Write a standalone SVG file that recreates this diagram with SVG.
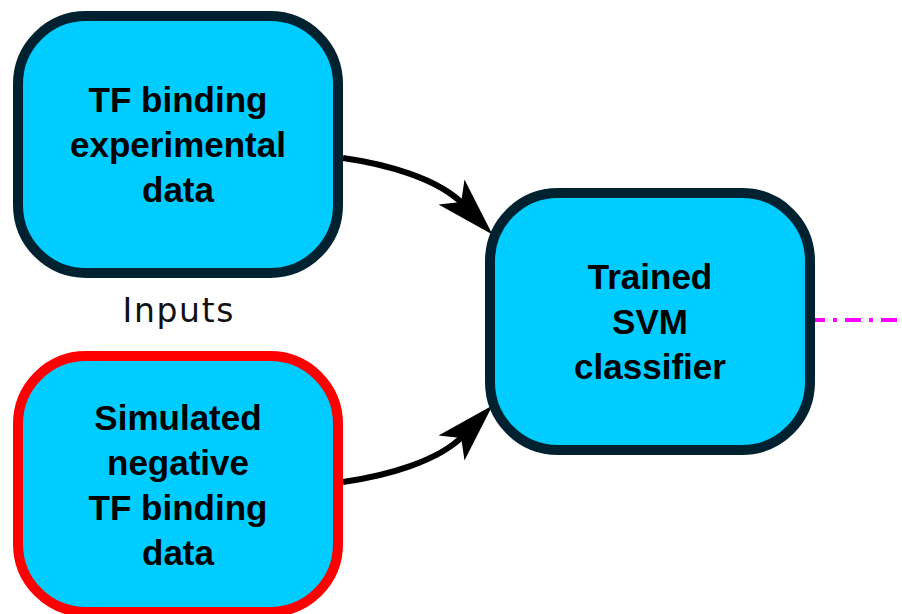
<svg xmlns="http://www.w3.org/2000/svg" width="902" height="614" viewBox="0 0 902 614">
  <style>
    .box { fill: #00ccff; stroke: #002230; stroke-width: 10; }
    .box.neg { stroke: #ff0000; }
    .label { font-family: "Liberation Sans", Arial, sans-serif; font-weight: bold; font-size: 35px; fill: #000; text-anchor: middle; }
    .note { font-family: "DejaVu Sans", Verdana, sans-serif; font-size: 33px; fill: #111; text-anchor: middle; }
    .edge { fill: none; stroke: #000; stroke-width: 6; marker-end: url(#head); }
    .out { fill: none; stroke: #ff00ff; stroke-width: 4; stroke-dasharray: 16 8 4 8; }
  </style>
  <defs>
    <!-- notched arrowhead, reference point a little past the notch -->
    <marker id="head" markerUnits="userSpaceOnUse" viewBox="-16 -20 66 40" markerWidth="66" markerHeight="40" refX="4" refY="0" orient="auto">
      <path d="M45,0 L-14,-18 L0,0 L-14,18 Z" fill="#000"/>
    </marker>
  </defs>

  <g id="connectors">
    <path class="edge" d="M343,158 C385,164 438,178 464,205"/>
    <path class="edge" d="M343,482 C385,476 438,462 464,435"/>
    <line class="out" x1="809" y1="320" x2="902" y2="320"/>
  </g>

  <g id="tf-experimental">
    <rect class="box" x="18" y="16" width="320" height="257" rx="68" ry="68"/>
    <text class="label" x="178" y="112">TF binding</text>
    <text class="label" x="178" y="157">experimental</text>
    <text class="label" x="178" y="202">data</text>
  </g>

  <g id="inputs-label">
    <text class="note" x="178" y="322" textLength="111" lengthAdjust="spacing">Inputs</text>
  </g>

  <g id="simulated-negative">
    <rect class="box neg" x="18" y="356" width="320" height="256" rx="68" ry="68"/>
    <text class="label" x="178" y="430">Simulated</text>
    <text class="label" x="178" y="475">negative</text>
    <text class="label" x="178" y="520">TF binding</text>
    <text class="label" x="178" y="565">data</text>
  </g>

  <g id="svm-classifier">
    <rect class="box" x="490" y="193" width="320" height="257" rx="68" ry="68"/>
    <text class="label" x="650" y="289">Trained</text>
    <text class="label" x="650" y="334">SVM</text>
    <text class="label" x="650" y="379">classifier</text>
  </g>
</svg>
